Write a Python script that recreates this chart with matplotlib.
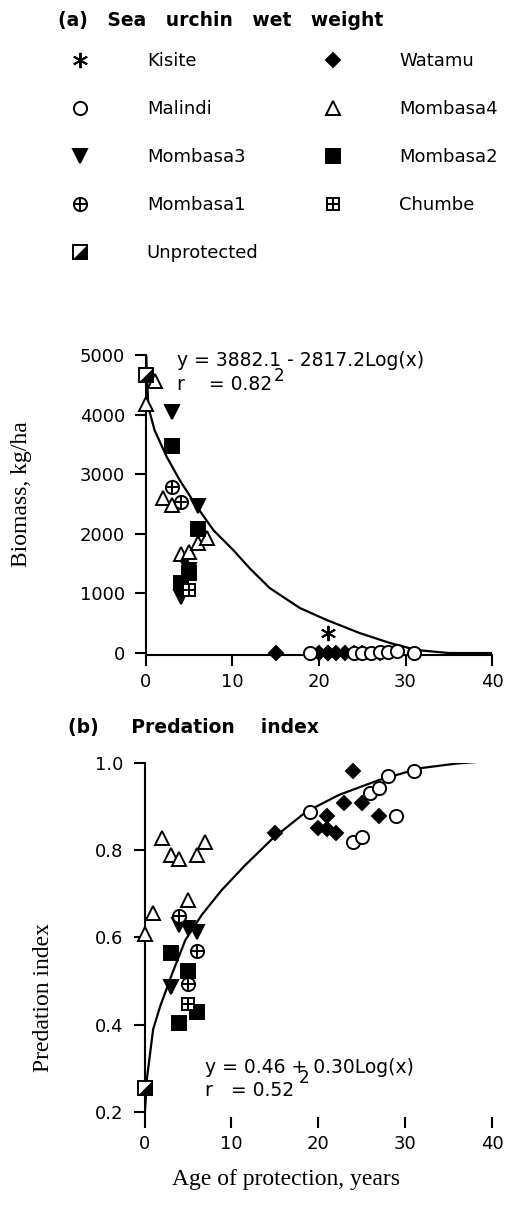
import matplotlib
matplotlib.use("Agg")
import matplotlib.pyplot as plt

# ages of protection, years
kisite_age = [21]
watamu_age = [15, 20, 21, 21, 22, 23, 24, 25, 27]
malindi_age = [19, 24, 25, 26, 27, 28, 29, 31]
mombasa4_age = [0, 1, 2, 3, 4, 5, 6, 7]
mombasa3_age = [3, 4, 5, 6]
mombasa2_age = [3, 4, 5, 6]
mombasa1_age_a = [3, 4]
mombasa1_age_b = [4, 5, 6]
chumbe_age = [5]
unprotected_age = [0]

# (a) sea urchin wet weight, kg/ha
kisite_bio = [340]
watamu_bio = [0, 0, 0, 0, 0, 0, 0, 0, 0]
malindi_bio = [0, 0, 0, 0, 10, 20, 40, 0]
mombasa4_bio = [4170, 4570, 2600, 2480, 1660, 1690, 1840, 1930]
mombasa3_bio = [4040, 940, 1400, 2460]
mombasa2_bio = [3480, 1170, 1350, 2080]
mombasa1_bio = [2780, 2530]
chumbe_bio = [1060]
unprotected_bio = [4660]

# (b) predation index
watamu_pred = [0.84, 0.852, 0.878, 0.848, 0.839, 0.908, 0.982, 0.908, 0.878]
malindi_pred = [0.888, 0.82, 0.831, 0.932, 0.943, 0.971, 0.878, 0.982]
mombasa4_pred = [0.607, 0.657, 0.827, 0.789, 0.779, 0.687, 0.789, 0.82]
mombasa3_pred = [0.486, 0.628, 0.621, 0.613]
mombasa2_pred = [0.564, 0.403, 0.524, 0.43]
mombasa1_pred = [0.649, 0.494, 0.57]
chumbe_pred = [0.448]
unprotected_pred = [0.254]

# fitted curves as drawn
fit_a_x = [0.02, 0.27, 1.0, 2.4, 3.9, 5.9, 7.8, 10.1, 12, 14.3, 17.8, 20.9, 24.7, 28.2, 31.3, 35, 40]
fit_a_y = [5000, 4125, 3735, 3290, 2900, 2450, 2060, 1725, 1420, 1090, 754, 553, 335, 168, 50, 0, 0]
fit_b_x = [0.05, 0.3, 1.0, 1.8, 3.2, 4.7, 6.6, 8.9, 11.6, 14.7, 18.6, 22.4, 27, 31.7, 36, 40]
fit_b_y = [0.20, 0.28, 0.39, 0.442, 0.518, 0.594, 0.652, 0.709, 0.766, 0.826, 0.888, 0.927,
           0.961, 0.988, 0.999, 1.005]

plt.rcParams['font.family'] = ['DejaVu Sans']
W, H = 506, 1206
fig = plt.figure(figsize=(W / 100, H / 100), dpi=100)

ax_a = fig.add_axes([146 / W, 1 - 655.4 / H, 346 / W, 300.4 / H])
ax_b = fig.add_axes([144.5 / W, 1 - 1117 / H, 347.5 / W, 354 / H])

MS = 10
EW = 1.4


def pts(ax, x, y, marker, face, size=MS):
    return ax.plot(x, y, linestyle='none', marker=marker, markersize=size,
                   markerfacecolor=face, markeredgecolor='black',
                   markeredgewidth=EW, clip_on=False, zorder=3)[0]


def plus_marker(ax, x, y, base):
    m1 = pts(ax, x, y, base, 'white', 9.5 if base == 'o' else 9)
    m2 = pts(ax, x, y, '+', 'none', 9.5 if base == 'o' else 9)
    return (m1, m2)


half_tri = [(-1, -1), (1, -1), (1, 1), (-1, -1)]


def half_square(ax, x, y):
    m1 = pts(ax, x, y, 's', 'white', 10)
    m2 = ax.plot(x, y, linestyle='none', marker=half_tri, markersize=10,
                 markerfacecolor='black', markeredgecolor='black',
                 markeredgewidth=0.5, clip_on=False, zorder=4)[0]
    return (m1, m2)


def style(ax):
    for s in ['top', 'right']:
        ax.spines[s].set_visible(False)
    for s in ['left', 'bottom']:
        ax.spines[s].set_linewidth(1.5)
    ax.tick_params(direction='out', length=8, width=1.5, labelsize=13, pad=5)
    ax.tick_params(axis='y', pad=7)
    ax.set_xlim(0, 40)
    ax.set_xticks([0, 10, 20, 30, 40])


# panel (a)
ax_a.plot(fit_a_x, fit_a_y, color='black', lw=1.6, zorder=2)
h_kis = pts(ax_a, kisite_age, kisite_bio, (6, 2, 0), 'black', 11)
h_wat = pts(ax_a, watamu_age, watamu_bio, 'D', 'black', 7.5)
h_mal = pts(ax_a, malindi_age, malindi_bio, 'o', 'white', 9.5)
h_m4 = pts(ax_a, mombasa4_age, mombasa4_bio, '^', 'white', 10.5)
h_m3 = pts(ax_a, mombasa3_age, mombasa3_bio, 'v', 'black', 10.5)
h_m2 = pts(ax_a, mombasa2_age, mombasa2_bio, 's', 'black', 10)
h_m1 = plus_marker(ax_a, mombasa1_age_a, mombasa1_bio, 'o')
h_chu = plus_marker(ax_a, chumbe_age, chumbe_bio, 's')
h_unp = half_square(ax_a, unprotected_age, unprotected_bio)
style(ax_a)
ax_a.set_ylim(-40, 5000)
ax_a.set_yticks([0, 1000, 2000, 3000, 4000, 5000])

ax_a.text(3.6, 4910, 'y = 3882.1 - 2817.2Log(x)', fontsize=13.5, va='center')
ax_a.text(3.6, 4510, 'r    = 0.82', fontsize=13.5, va='center')
ax_a.text(14.8, 4640, '2', fontsize=12, va='center')

# panel (b)
ax_b.plot(fit_b_x, fit_b_y, color='black', lw=1.6, zorder=2)
pts(ax_b, watamu_age, watamu_pred, 'D', 'black', 7.5)
pts(ax_b, malindi_age, malindi_pred, 'o', 'white', 9.5)
pts(ax_b, mombasa4_age, mombasa4_pred, '^', 'white', 10.5)
pts(ax_b, mombasa3_age, mombasa3_pred, 'v', 'black', 10.5)
pts(ax_b, mombasa2_age, mombasa2_pred, 's', 'black', 10)
plus_marker(ax_b, mombasa1_age_b, mombasa1_pred, 'o')
plus_marker(ax_b, chumbe_age, chumbe_pred, 's')
half_square(ax_b, unprotected_age, unprotected_pred)
style(ax_b)
ax_b.set_ylim(0.1885, 1.0)
ax_b.set_yticks([0.2, 0.4, 0.6, 0.8, 1.0])
ax_b.set_yticklabels(['0.2', '0.4', '0.6', '0.8', '1.0'])
ax_b.spines['bottom'].set_visible(False)

ax_b.text(7.0, 0.303, 'y = 0.46 + 0.30Log(x)', fontsize=13.5, va='center')
ax_b.text(7.0, 0.25, 'r   = 0.52', fontsize=13.5, va='center')
ax_b.text(17.8, 0.278, '2', fontsize=12, va='center')

# titles and axis labels
fig.text(58 / W, 1 - 20 / H, '(a)   Sea   urchin   wet   weight', fontsize=13.5,
         fontweight='bold', va='center')
fig.text(68 / W, 1 - 727 / H, '(b)     Predation    index', fontsize=13.5,
         fontweight='bold', va='center')
fig.text(22 / W, 1 - 494 / H, 'Biomass, kg/ha', family='Liberation Serif',
         fontsize=17, rotation=90, ha='center', va='center')
fig.text(44 / W, 1 - 997 / H, 'Predation index', family='Liberation Serif',
         fontsize=17, rotation=90, ha='center', va='center')
fig.text(286 / W, 1 - 1180 / H, 'Age of protection, years', family='Liberation Serif',
         fontsize=17, ha='center', va='center')

# legend
handles = [h_kis, h_mal, h_m3, h_m1, h_unp, h_wat, h_m4, h_m2, h_chu]
labels = ['Kisite', 'Malindi', 'Mombasa3', 'Mombasa1', 'Unprotected',
          'Watamu', 'Mombasa4', 'Mombasa2', 'Chumbe']
fig.legend(handles, labels, ncol=2, loc='upper left',
           bbox_to_anchor=(71 / W, 1 - 52.3 / H), frameon=False, fontsize=13,
           handlelength=1.0, handletextpad=3.2, columnspacing=3.6,
           labelspacing=1.66, borderpad=0, borderaxespad=0)

fig.savefig('out.png', dpi=100)
